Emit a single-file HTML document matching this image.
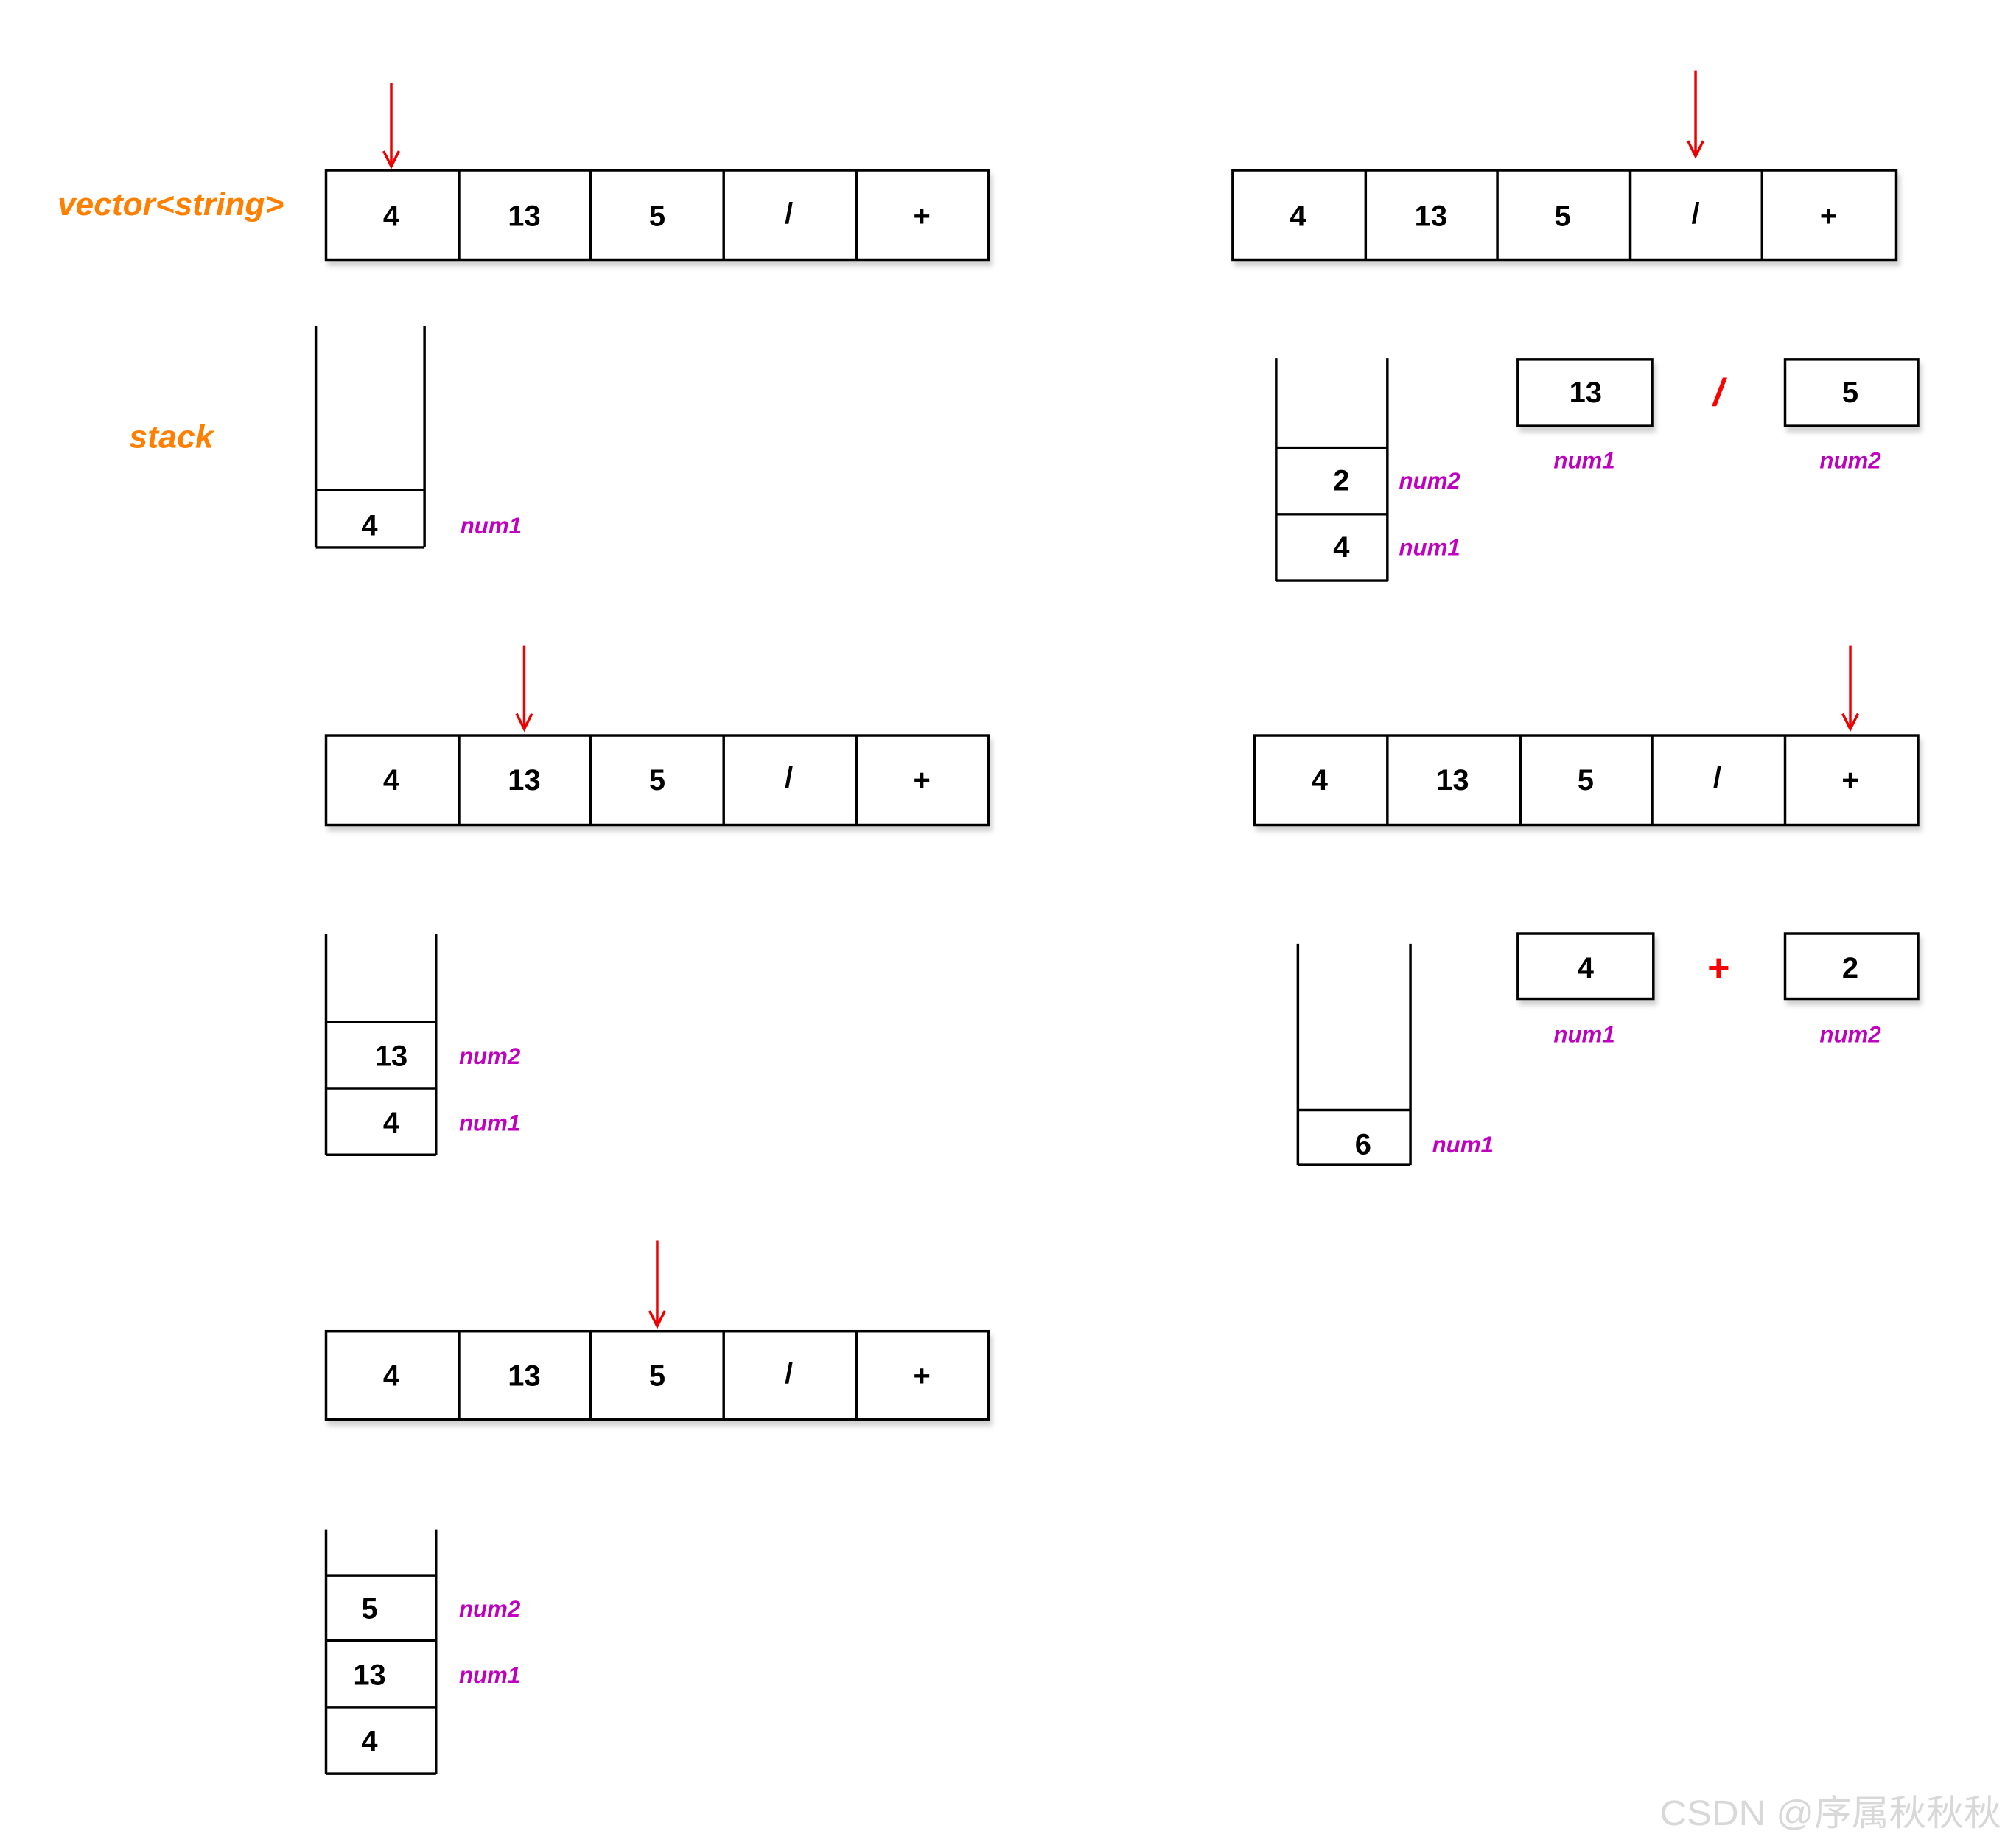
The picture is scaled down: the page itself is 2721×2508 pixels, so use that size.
<!DOCTYPE html>
<html><head><meta charset="utf-8"><style>
html,body{margin:0;padding:0;background:#fff;width:2721px;height:2508px;overflow:hidden}
svg{display:block}
.d{font-family:"Liberation Sans",sans-serif;font-weight:bold;font-size:23px;fill:#000;text-anchor:middle;dominant-baseline:central}
.m{font-family:"Liberation Sans",sans-serif;font-weight:bold;font-style:italic;font-size:18px;fill:#c000c0;dominant-baseline:central}
.o{font-family:"Liberation Sans",sans-serif;font-weight:bold;font-style:italic;font-size:25px;fill:#ff7f00;dominant-baseline:central}
.r{font-family:"Liberation Sans",sans-serif;font-weight:bold;font-size:30px;fill:#f00;text-anchor:middle;dominant-baseline:central}
rect{fill:#fff;stroke:#000;stroke-width:2}
line{stroke:#000;stroke-width:2}
.a{stroke:#e00;stroke-width:2;fill:none}
</style></head><body>
<svg width="2721" height="2508" viewBox="0 0 1568 1445" xmlns="http://www.w3.org/2000/svg">
<defs>
<filter id="sh" x="-5%" y="-20%" width="110%" height="150%"><feDropShadow dx="2" dy="4" stdDeviation="2" flood-color="#000" flood-opacity="0.18"/></filter>
</defs>
<text class="o" x="45" y="160" textLength="177" lengthAdjust="spacingAndGlyphs">vector&lt;string&gt;</text>
<text class="o" x="101" y="342" textLength="66" lengthAdjust="spacingAndGlyphs">stack</text>

<!-- Array 1 -->
<g filter="url(#sh)"><rect x="255" y="133" width="518" height="70"/></g>
<line x1="359" y1="133" x2="359" y2="203"/><line x1="462" y1="133" x2="462" y2="203"/><line x1="566" y1="133" x2="566" y2="203"/><line x1="670" y1="133" x2="670" y2="203"/>
<text class="d" x="306" y="169">4</text><text class="d" x="410" y="169">13</text><text class="d" x="514" y="169">5</text><text class="d" x="617" y="167">/</text><text class="d" x="721" y="169">+</text>
<path class="a" d="M306 65 L306 130 M300 118 L306 130 L312 118"/>

<!-- Stack 1 -->
<line x1="247" y1="255" x2="247" y2="428"/><line x1="332" y1="255" x2="332" y2="428"/>
<line x1="247" y1="383" x2="332" y2="383"/><line x1="247" y1="428" x2="332" y2="428"/>
<text class="d" x="289" y="411">4</text><text class="m" x="360" y="411">num1</text>

<!-- Array 2 -->
<g filter="url(#sh)"><rect x="964" y="133" width="519" height="70"/></g>
<line x1="1068" y1="133" x2="1068" y2="203"/><line x1="1171" y1="133" x2="1171" y2="203"/><line x1="1275" y1="133" x2="1275" y2="203"/><line x1="1378" y1="133" x2="1378" y2="203"/>
<text class="d" x="1015" y="169">4</text><text class="d" x="1119" y="169">13</text><text class="d" x="1222" y="169">5</text><text class="d" x="1326" y="167">/</text><text class="d" x="1430" y="169">+</text>
<path class="a" d="M1326 55 L1326 122 M1320 110 L1326 122 L1332 110"/>

<!-- Stack 2 -->
<line x1="998" y1="280" x2="998" y2="454"/><line x1="1085" y1="280" x2="1085" y2="454"/>
<line x1="998" y1="350" x2="1085" y2="350"/><line x1="998" y1="402" x2="1085" y2="402"/><line x1="998" y1="454" x2="1085" y2="454"/>
<text class="d" x="1049" y="376">2</text><text class="d" x="1049" y="428">4</text>
<text class="m" x="1094" y="376">num2</text><text class="m" x="1094" y="428">num1</text>
<g filter="url(#sh)"><rect x="1187" y="281" width="105" height="52"/><rect x="1396" y="281" width="104" height="52"/></g>
<text class="d" x="1240" y="307">13</text><text class="d" x="1447" y="307">5</text>
<text class="r" x="1344" y="307" style="font-style:italic">/</text>
<text class="m" x="1215" y="360">num1</text><text class="m" x="1423" y="360">num2</text>

<!-- Array 3 -->
<g filter="url(#sh)"><rect x="255" y="575" width="518" height="70"/></g>
<line x1="359" y1="575" x2="359" y2="645"/><line x1="462" y1="575" x2="462" y2="645"/><line x1="566" y1="575" x2="566" y2="645"/><line x1="670" y1="575" x2="670" y2="645"/>
<text class="d" x="306" y="610">4</text><text class="d" x="410" y="610">13</text><text class="d" x="514" y="610">5</text><text class="d" x="617" y="608">/</text><text class="d" x="721" y="610">+</text>
<path class="a" d="M410 505 L410 570 M404 558 L410 570 L416 558"/>

<!-- Stack 3 -->
<line x1="255" y1="730" x2="255" y2="903"/><line x1="341" y1="730" x2="341" y2="903"/>
<line x1="255" y1="799" x2="341" y2="799"/><line x1="255" y1="851" x2="341" y2="851"/><line x1="255" y1="903" x2="341" y2="903"/>
<text class="d" x="306" y="826">13</text><text class="d" x="306" y="878">4</text>
<text class="m" x="359" y="826">num2</text><text class="m" x="359" y="878">num1</text>

<!-- Array 4 -->
<g filter="url(#sh)"><rect x="981" y="575" width="519" height="70"/></g>
<line x1="1085" y1="575" x2="1085" y2="645"/><line x1="1189" y1="575" x2="1189" y2="645"/><line x1="1292" y1="575" x2="1292" y2="645"/><line x1="1396" y1="575" x2="1396" y2="645"/>
<text class="d" x="1032" y="610">4</text><text class="d" x="1136" y="610">13</text><text class="d" x="1240" y="610">5</text><text class="d" x="1343" y="608">/</text><text class="d" x="1447" y="610">+</text>
<path class="a" d="M1447 505 L1447 570 M1441 558 L1447 570 L1453 558"/>

<!-- Stack 4 -->
<line x1="1015" y1="738" x2="1015" y2="911"/><line x1="1103" y1="738" x2="1103" y2="911"/>
<line x1="1015" y1="868" x2="1103" y2="868"/><line x1="1015" y1="911" x2="1103" y2="911"/>
<text class="d" x="1066" y="895">6</text><text class="m" x="1120" y="895">num1</text>
<g filter="url(#sh)"><rect x="1187" y="730" width="106" height="51"/><rect x="1396" y="730" width="104" height="51"/></g>
<text class="d" x="1240" y="757">4</text><text class="d" x="1447" y="757">2</text>
<text class="r" x="1344" y="757">+</text>
<text class="m" x="1215" y="809">num1</text><text class="m" x="1423" y="809">num2</text>

<!-- Array 5 -->
<g filter="url(#sh)"><rect x="255" y="1041" width="518" height="69"/></g>
<line x1="359" y1="1041" x2="359" y2="1110"/><line x1="462" y1="1041" x2="462" y2="1110"/><line x1="566" y1="1041" x2="566" y2="1110"/><line x1="670" y1="1041" x2="670" y2="1110"/>
<text class="d" x="306" y="1076">4</text><text class="d" x="410" y="1076">13</text><text class="d" x="514" y="1076">5</text><text class="d" x="617" y="1074">/</text><text class="d" x="721" y="1076">+</text>
<path class="a" d="M514 970 L514 1037 M508 1025 L514 1037 L520 1025"/>

<!-- Stack 5 -->
<line x1="255" y1="1196" x2="255" y2="1387"/><line x1="341" y1="1196" x2="341" y2="1387"/>
<line x1="255" y1="1232" x2="341" y2="1232"/><line x1="255" y1="1283" x2="341" y2="1283"/><line x1="255" y1="1335" x2="341" y2="1335"/><line x1="255" y1="1387" x2="341" y2="1387"/>
<text class="d" x="289" y="1258">5</text><text class="d" x="289" y="1310">13</text><text class="d" x="289" y="1362">4</text>
<text class="m" x="359" y="1258">num2</text><text class="m" x="359" y="1310">num1</text>

<text x="1298" y="1418" textLength="267" lengthAdjust="spacingAndGlyphs" style="font-family:'Liberation Sans','Noto Sans CJK SC',sans-serif;font-size:28px;fill:#d8d8d8;dominant-baseline:central">CSDN @序属秋秋秋</text>
</svg>
</body></html>
